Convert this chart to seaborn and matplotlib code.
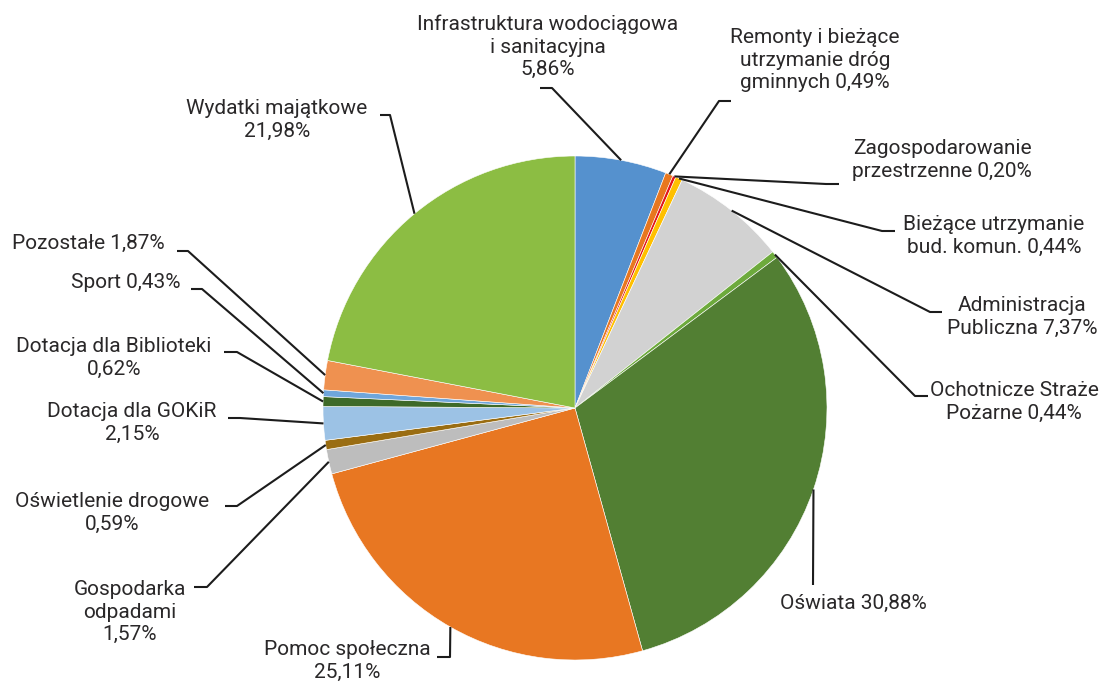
import numpy as np
import matplotlib
matplotlib.use("Agg")
import matplotlib.pyplot as plt
import seaborn as sns

# ---- data ----
categories = [
    "Infrastruktura wodociągowa\ni sanitacyjna\n5,86%",
    "Remonty i bieżące\nutrzymanie dróg\ngminnych 0,49%",
    "Zagospodarowanie\nprzestrzenne 0,20%",
    "Bieżące utrzymanie\nbud. komun. 0,44%",
    "Administracja\nPubliczna 7,37%",
    "Ochotnicze Straże\nPożarne 0,44%",
    "Oświata 30,88%",
    "Pomoc społeczna\n25,11%",
    "Gospodarka\nodpadami\n1,57%",
    "Oświetlenie drogowe\n0,59%",
    "Dotacja dla GOKiR\n2,15%",
    "Dotacja dla Biblioteki\n0,62%",
    "Sport 0,43%",
    "Pozostałe 1,87%",
    "Wydatki majątkowe\n21,98%",
]
values = [5.86, 0.49, 0.20, 0.44, 7.37, 0.44, 30.88, 25.11, 1.57, 0.59,
          2.15, 0.62, 0.43, 1.87, 21.98]
colors = ["#5591CE", "#E8771F", "#E3161B", "#FFC000", "#D2D2D2", "#6DAA3C",
          "#527F33", "#E87722", "#BDBDBD", "#9A6D12", "#9CC2E5", "#3E6A28",
          "#6FA6DB", "#EF9150", "#8CBD43"]

# ---- layout (pixel coordinates from top-left) ----
W, H = 1102, 684
CX, CY, R = 575, 408, 252
label_pos = [(548, 47), (815, 60), (942, 160), (994, 236), (1022, 317),
             (1014, 402), (853, 603), (347, 661), (130, 612), (112, 513),
             (132, 423), (114, 358), (126, 283), (88, 243), (277, 120)]
leader = [
    [(552, 88), (540, 88)],
    [(719, 101), (731, 101)],
    [(826, 184), (839, 184)],
    [(882, 231), (895, 231)],
    [(930, 312), (942, 312)],
    [(915, 396), (928, 396)],
    [(813, 585)],
    [(450, 657), (437, 657)],
    [(207, 587), (194, 587)],
    [(237, 506), (225, 506)],
    [(240, 418), (228, 418)],
    [(237, 352), (224, 352)],
    [(202, 289), (191, 289)],
    [(188, 251), (177, 251)],
    [(390, 115), (380, 115)],
]

sns.set_theme(style="white")
plt.rcParams["font.family"] = ["Roboto", "DejaVu Sans"]

fig = plt.figure(figsize=(W / 100, H / 100), dpi=100)
ax = fig.add_axes([0, 0, 1, 1])

def fy(y):
    return H - y

wedges, _ = ax.pie(values, colors=colors, startangle=90, counterclock=False,
                   center=(CX, fy(CY)), radius=R,
                   wedgeprops=dict(edgecolor="white", linewidth=0.4))
ax.set_xlim(0, W)
ax.set_ylim(0, H)
ax.set_aspect("equal")
ax.axis("off")

txt_color = "#2a2829"
for w, lab, (lx, ly), path in zip(wedges, categories, label_pos, leader):
    ang = np.deg2rad((w.theta1 + w.theta2) / 2)
    ax0 = w.center[0] + w.r * np.cos(ang)
    ay0 = w.center[1] + w.r * np.sin(ang)
    xs = [ax0] + [p[0] for p in path]
    ys = [ay0] + [fy(p[1]) for p in path]
    ax.plot(xs, ys, color="#1c1c1c", lw=1.5, solid_capstyle="butt", zorder=3)
    ax.text(lx, fy(ly), lab, ha="center", va="center", fontsize=15,
            color=txt_color, linespacing=1.22)

fig.savefig("out.png", dpi=100, facecolor="white")
